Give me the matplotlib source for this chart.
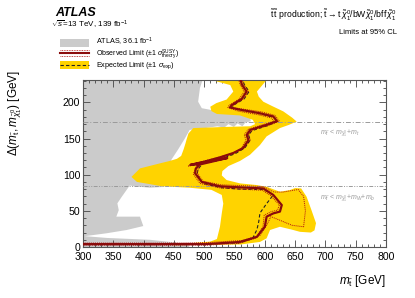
import matplotlib
matplotlib.use('Agg')
import matplotlib.pyplot as plt
from matplotlib.ticker import MultipleLocator

plt.rcParams['font.family'] = ['Liberation Sans', 'DejaVu Sans']
plt.rcParams['mathtext.fontset'] = 'custom'
plt.rcParams['mathtext.rm'] = 'Liberation Sans'
plt.rcParams['mathtext.it'] = 'Liberation Sans:italic'
plt.rcParams['mathtext.bf'] = 'Liberation Sans:bold'
plt.rcParams['mathtext.sf'] = 'Liberation Sans'

# ---------------- data ----------------
xticks = [300, 350, 400, 450, 500, 550, 600, 650, 700, 750, 800]
yticks = [0, 50, 100, 150, 200]
mt_line = 173
mwb_line = 84

# ATLAS 36.1 fb-1 excluded region
grey_x = [300, 498, 498, 493, 490, 496, 521, 559, 576, 577, 568, 563, 555, 549, 540, 533, 522, 490, 476,
          468, 457, 446, 440, 432, 410, 385, 377, 372, 364, 356.7, 359, 355, 394, 399.5, 372, 339, 303,
          340, 410, 455, 475, 475, 300]
grey_y = [240, 240, 233, 220, 201, 192, 188, 183, 178, 174, 172, 167, 171, 166, 170, 165, 167, 163, 162,
          150, 135, 121, 100, 83, 82, 84, 85, 79, 69.5, 60.4, 51, 42, 42, 29, 23.5, 19, 15,
          12.5, 10, 6, 3, 0, 0]

# expected +-1 sigma band
band_x = [510, 603, 603, 595, 587, 590, 597.5, 612, 630.5, 645, 652.6, 640, 625, 603, 592, 575.6, 559, 540,
          530, 529, 537, 559, 586.6, 603, 625, 641.6, 650, 660, 669, 677, 684.5, 682, 676, 658, 647, 625,
          608.6, 603, 592, 560, 449, 449, 480, 510, 521, 526, 529, 531.5, 529, 512, 476, 430, 410, 389,
          380, 394, 427, 443, 455, 462, 466, 469, 471, 474, 482, 531, 576, 584, 580, 559, 521, 512, 510,
          520, 537, 548, 543, 521, 511]
band_y = [240, 240, 231, 223, 215, 208, 201, 195, 187.6, 179, 173.5, 169, 164.5, 153, 141, 127.6, 119, 112,
          105, 99, 92.6, 88, 85.7, 83.3, 76.4, 78.8, 81.5, 81, 69.5, 51, 33, 23, 20, 21, 23.5, 28,
          23.5, 12, 7, 3.5, 2.5, 3.5, 5.5, 7.5, 11, 28, 46.5, 60, 72, 79, 82, 84, 87, 90,
          97, 108.7, 115.7, 119, 122, 126, 135, 143, 149, 157, 164.5, 166, 167, 170, 176, 182, 184, 188, 194,
          199, 204, 215, 224, 229, 232]

# observed limit
obs_x = [559, 562, 570, 562, 545, 542.6, 559, 592, 614, 620, 603, 576, 570, 573, 564.5, 548, 526, 500, 477,
         505, 538, 510, 492, 486, 485, 496, 526, 559, 597.5, 614, 628, 625, 614, 603, 600, 587, 559, 504,
         450, 300]
obs_y = [235, 225, 215, 205, 196, 193, 190, 185, 180.6, 174, 169, 162, 155, 148, 137, 130, 124, 118, 113.5,
         118, 123, 117.5, 114, 108, 102, 90, 84, 82.5, 81, 72, 58, 49, 46.5, 42, 28, 14, 7, 4,
         4, 4]

# observed +-1 sigma theory
obs_up_x = [562, 565, 573, 565, 548, 546, 562, 594, 617, 624, 606, 579, 573, 576, 567, 551, 528, 505, 478,
            495, 488, 498, 528, 559, 598, 615, 630, 655, 664, 667, 664, 645, 625, 610, 603, 592, 562, 504,
            450, 300]
obs_up_y = [235, 225, 215, 205, 196, 193, 191, 187, 182, 174, 168, 162, 155, 148, 138, 131, 125, 120, 114.5,
            116, 103, 91, 86, 85, 83.5, 76, 76, 79.5, 70, 50, 28, 30, 37, 42, 30, 16, 9, 6,
            5.5, 5.5]
obs_dn_x = [556, 559, 566, 558, 541, 539, 556, 589, 611, 615, 600, 573, 566, 569, 561, 545, 523, 497, 474,
            488, 482, 493, 524, 558, 596, 610, 624, 621, 611, 599, 597, 584, 557, 504, 450, 300]
obs_dn_y = [235, 225, 215, 205, 196, 193, 188, 183, 178.5, 174, 170, 163, 155, 148, 136, 128.5, 122, 116, 112,
            114, 101, 88, 82, 80, 78.5, 71, 58, 51, 49, 44, 28, 12, 5, 2.5, 2.5, 2.5]

# expected limit
exp_x = [562, 566, 574, 566, 548, 546, 562, 594, 616, 621, 605, 579, 573, 576, 567, 551, 528, 505, 482,
         495, 490, 488, 498, 528, 560, 598, 614, 603, 592, 590, 587, 580, 560, 504, 450, 300]
exp_y = [235, 225, 215, 205, 196, 192, 189, 184, 179, 174, 168, 161, 155, 148, 137, 129, 122, 117, 113,
         113, 108, 100, 88, 82, 80, 79.5, 72, 60, 47, 35, 24, 12, 6, 4, 3.5, 3.5]

GREY = '#cbcbcb'
YEL = '#ffd300'
RED = '#8a0b0b'
LGREY = '#9a9a9a'

W, H = 415, 298
fig = plt.figure(figsize=(W / 100, H / 100), dpi=100)
ax = fig.add_axes([83 / W, 1 - 247 / H, (386 - 83) / W, (247 - 80) / H])

ax.fill(grey_x, grey_y, color=GREY, lw=0, zorder=1)
ax.fill(band_x, band_y, color=YEL, lw=0, zorder=2)
ax.axhline(mt_line, color=LGREY, lw=0.7, ls='-.', dashes=(5, 2, 1, 2), zorder=3)
ax.axhline(mwb_line, color=LGREY, lw=0.7, ls=(0, (4, 1.5, 1, 1.5, 1, 1.5)), zorder=3)
ax.plot(exp_x, exp_y, color='#222222', lw=0.8, ls=(0, (3, 2)), zorder=4)
ax.plot(obs_up_x, obs_up_y, color='#b01010', lw=0.7, ls=(0, (1, 1)), zorder=5)
ax.plot(obs_dn_x, obs_dn_y, color='#b01010', lw=0.7, ls=(0, (1, 1)), zorder=5)
ax.plot(obs_x, obs_y, color=RED, lw=1.6, zorder=6, solid_joinstyle='round')

ax.text(691, 157, r'$m_{\tilde{t}}$ < $m_{\tilde{\chi}^0_1}$+$m_t$', fontsize=5, color=LGREY, va='center', ha='left')
ax.text(691, 67, r'$m_{\tilde{t}}$ < $m_{\tilde{\chi}^0_1}$+$m_W$+$m_b$', fontsize=5, color=LGREY, va='center', ha='left')

ax.set_xlim(300, 800)
ax.set_ylim(0, 231)
ax.set_xticks(xticks)
ax.set_yticks(yticks)
ax.xaxis.set_minor_locator(MultipleLocator(10))
ax.yaxis.set_minor_locator(MultipleLocator(10))
ax.tick_params(which='both', direction='in', top=True, right=True, color='#444444', width=0.6)
ax.tick_params(which='major', length=5, labelsize=7.6)
ax.tick_params(which='minor', length=2.5)
ax.tick_params(axis='x', pad=3.5)
ax.tick_params(axis='y', pad=2)
for s in ax.spines.values():
    s.set_color('#555555')
    s.set_linewidth(0.8)

# overlay in pixel coordinates for annotations and legend
ov = fig.add_axes([0, 0, 1, 1])
ov.set_xlim(0, W)
ov.set_ylim(H, 0)
ov.axis('off')

ov.text(55, 13, 'ATLAS', fontsize=9, fontweight='bold', fontstyle='italic', va='center', ha='left')
ov.text(51, 24.5, r'$\sqrt{s}$=13 TeV, 139 fb$^{-1}$', fontsize=5.8, va='center', ha='left')
ov.text(397, 15, r'$\tilde{\rm t}\,\tilde{\rm t}$ production; $\tilde{\rm t}\rightarrow{\rm t}\,\tilde{\chi}^0_1/{\rm bW}\tilde{\chi}^0_1/{\rm bff}^{\prime}\tilde{\chi}^0_1$',
        fontsize=6.2, va='center', ha='right')
ov.text(397, 33, 'Limits at 95% CL', fontsize=5.5, va='center', ha='right')

ov.add_patch(plt.Rectangle((60, 39), 29, 7.5, color=GREY, lw=0))
ov.plot([60, 89], [53.3, 53.3], color=RED, lw=1.5)
ov.plot([60, 89], [50.3, 50.3], color='#b01010', lw=0.6, ls=(0, (1, 1)))
ov.plot([60, 89], [56.3, 56.3], color='#b01010', lw=0.6, ls=(0, (1, 1)))
ov.add_patch(plt.Rectangle((60, 61), 29, 7.5, color=YEL, lw=0))
ov.plot([60, 89], [64.7, 64.7], color='#222222', lw=0.8, ls=(0, (3, 2)))
ov.text(96, 42, r'ATLAS, 36.1 fb$^{-1}$', fontsize=5.2, va='center', ha='left')
ov.text(96, 54.2, r'Observed Limit ($\pm$1 $\sigma^{\rm SUSY}_{\rm theory}$)', fontsize=5.0, va='center', ha='left')
ov.text(96, 66, r'Expected Limit ($\pm$1 $\sigma_{\rm exp}$)', fontsize=5.2, va='center', ha='left')

ov.text(386, 281, r'$m_{\tilde{\rm t}}$ [GeV]', fontsize=8.5, va='center', ha='right')
ov.text(15, 70, r'$\Delta(m_{\tilde{\rm t}},m_{\tilde{\chi}^0_1})$ [GeV]', fontsize=8.5, va='top', ha='center', rotation=90)

fig.savefig('out.png', dpi=100)
